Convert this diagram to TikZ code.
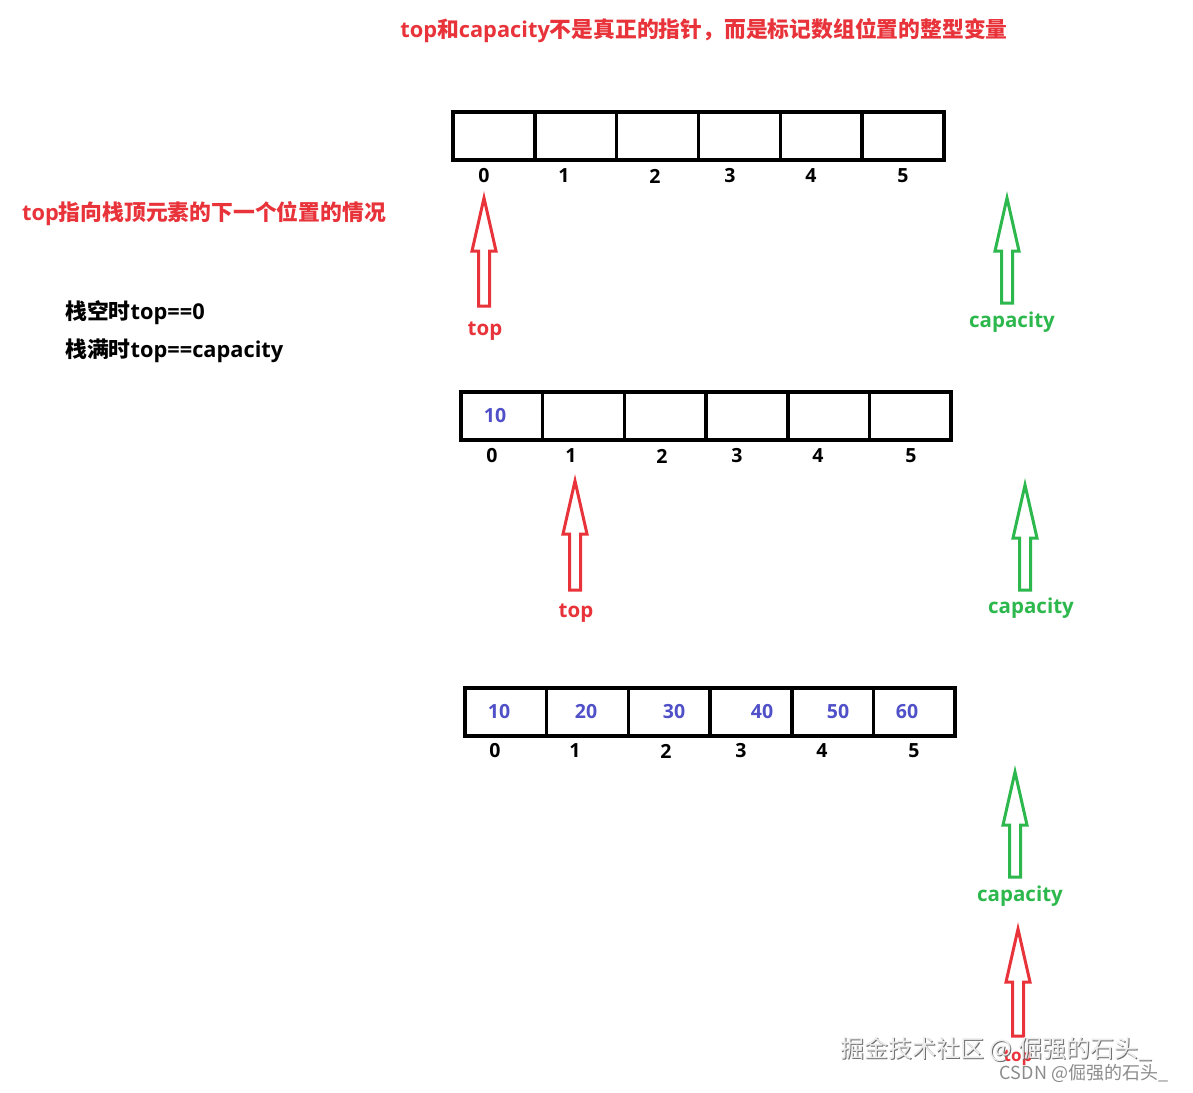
\documentclass[tikz,border=0pt]{standalone}
\usepackage{fontspec}
\setmainfont{Open Sans}
\newfontfamily\cjk{Noto Sans CJK SC}
\definecolor{myred}{HTML}{E8333A}
\definecolor{mygreen}{HTML}{2DB84D}
\definecolor{myblue}{HTML}{5050C8}
\definecolor{wmgray}{HTML}{6E6E6E}
\tikzset{
  x=1pt, y=-1pt,
  cell/.style={draw=black, line width=3.5pt, minimum width=81.8pt, minimum height=48pt, inner sep=0pt, outer sep=0pt},
  idx/.style={font=\bfseries\fontsize{19.5}{21}\selectfont, text=black, inner sep=0pt},
  val/.style={font=\bfseries\fontsize{19.5}{21}\selectfont, text=myblue, inner sep=0pt},
  lbl/.style={font=\bfseries\fontsize{20.5}{22}\selectfont, inner sep=0pt},
  big/.style={font=\bfseries\fontsize{21.8}{24}\selectfont, inner sep=0pt},
  pics/blockarr/.style={code={
    \draw[line width=3pt, line join=miter] (0,0) -- (12,53) -- (5.5,53) -- (5.5,#1) -- (-5.5,#1) -- (-5.5,53) -- (-12,53) -- cycle;
  }}
}
\begin{document}
\begin{tikzpicture}
\useasboundingbox (0,0) rectangle (1193,1092);
\fill[white] (0,0) rectangle (1193,1092);

% title texts
\node[big, text=myred] (title) at (704,31)
  {top{\cjk\bfseries 和}capacity{\cjk\bfseries 不是真正的指针，而是标记数组位置的整型变量}};
\node[big, text=myred] (sub) at (204,214)
  {top{\cjk\bfseries 指向栈顶元素的下一个位置的情况}};
\node[big, text=black, anchor=west] (empty) at (65,313)
  {{\cjk\bfseries 栈空时}top==0};
\node[big, text=black, anchor=west] (full) at (65,351)
  {{\cjk\bfseries 栈满时}top==capacity};

% array 1
\foreach \i in {0,...,5} \node[cell] (A\i) at ({453+81.83*(\i+0.5)},136) {};
\foreach \i/\x in {0/484,1/564,2/655,3/730,4/811,5/903} \node[idx] (AI\i) at (\x,176) {\i};

% array 2
\foreach \i in {0,...,5} \node[cell] (B\i) at ({461+81.67*(\i+0.5)},416) {};
\foreach \i/\x in {0/492,1/571,2/662,3/737,4/818,5/911} \node[idx] (BI\i) at (\x,456) {\i};
\node[val] (bv0) at (495,416) {10};

% array 3
\foreach \i in {0,...,5} \node[cell] (C\i) at ({465+81.67*(\i+0.5)},712) {};
\foreach \i/\x in {0/495,1/575,2/666,3/741,4/822,5/914} \node[idx] (CI\i) at (\x,751) {\i};
\foreach \v/\x in {10/499,20/586,30/674,40/762,50/838,60/907} \node[val] (cv\v) at (\x,712) {\v};

% arrows row 1
\pic[draw=myred] at (484,198) {blockarr=108};
\node[lbl, text=myred] (top1) at (485,331) {top};
\pic[draw=mygreen] at (1007,198) {blockarr=105};
\node[lbl, text=mygreen] (cap1) at (1012,322) {capacity};

% arrows row 2
\pic[draw=myred] at (575,481) {blockarr=109};
\node[lbl, text=myred] (top2) at (576,613) {top};
\pic[draw=mygreen] at (1025,485) {blockarr=105};
\node[lbl, text=mygreen] (cap2) at (1031,608) {capacity};

% arrows row 3
\pic[draw=mygreen] at (1015,772) {blockarr=105};
\node[lbl, text=mygreen] (cap3) at (1020,896) {capacity};
\pic[draw=myred] at (1018,929) {blockarr=107};
\node[lbl, text=myred, font=\bfseries\fontsize{17}{18}\selectfont] (top3) at (1018,1058) {top};

% watermark
\node[inner sep=0pt, text=wmgray, font=\cjk\fontsize{24}{26}\selectfont] (wm1s) at (997,1050) {掘金技术社区 @ 倔强的石头\_};
\node[inner sep=0pt, text=white!93!black, font=\cjk\fontsize{24}{26}\selectfont] (wm1) at (996,1049) {掘金技术社区 @ 倔强的石头\_};
\node[inner sep=0pt, text=white!55!black, font=\cjk\fontsize{18}{20}\selectfont] (wm2) at (1084,1073) {CSDN @倔强的石头\_};
\end{tikzpicture}
\end{document}
